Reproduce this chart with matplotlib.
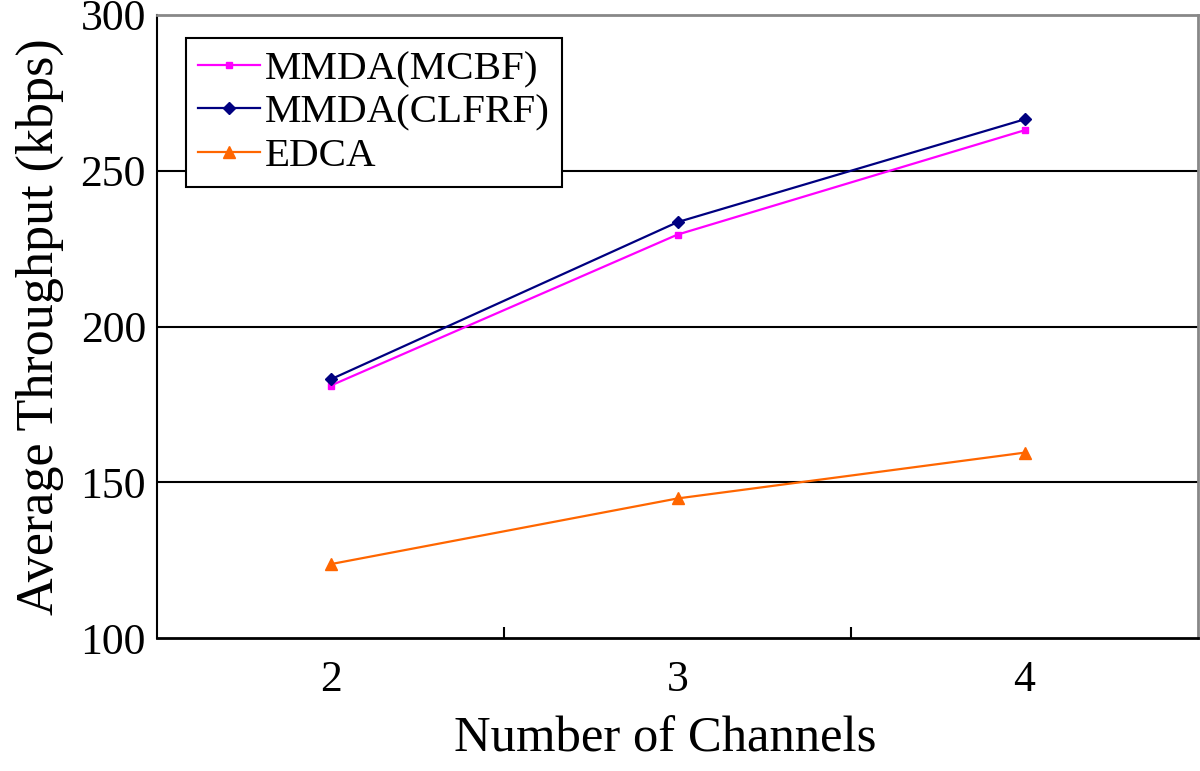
import matplotlib
matplotlib.use("Agg")
import matplotlib.pyplot as plt

# values
channels = [2, 3, 4]
mcbf = [181, 229.5, 263]
clfrf = [183, 233.5, 266.5]
edca = [123.7, 144.8, 159.5]

plt.rcParams['font.family'] = ['Liberation Serif', 'DejaVu Serif']

fig = plt.figure(figsize=(12, 7.71), dpi=100)
ax = fig.add_axes([157/1200, 1-638/771, (1198-157)/1200, (638-15)/771])

ax.plot(channels, mcbf, color='#FF00FF', lw=1.6, marker='s', ms=5, label='MMDA(MCBF)')
ax.plot(channels, clfrf, color='#000080', lw=1.6, marker='D', ms=6.5, label='MMDA(CLFRF)')
ax.plot(channels, edca, color='#FF6600', lw=1.6, marker='^', ms=8, label='EDCA')

ax.set_xlim(1.5, 4.5)
ax.set_ylim(100, 300)
ax.set_yticks([100, 150, 200, 250, 300])
ax.set_xticks(channels)
ax.set_xticks([2.5, 3.5], minor=True)
ax.tick_params(axis='x', which='major', length=0, labelsize=31.5, pad=16)
ax.tick_params(axis='x', which='minor', direction='in', length=8, width=1.5)
ax.tick_params(axis='y', length=0, labelsize=31.5, pad=8)

for y in [150, 200, 250]:
    ax.axhline(y, color='black', lw=1.5, zorder=0)

ax.spines['left'].set_linewidth(1.5)
ax.spines['bottom'].set_linewidth(2)
ax.spines['top'].set_color('#888888')
ax.spines['right'].set_color('#888888')
ax.spines['top'].set_linewidth(2)
ax.spines['right'].set_linewidth(2)

ax.set_xlabel('Number of Channels', fontsize=36.5, labelpad=12)
ax.xaxis.set_label_coords(0.488, -0.125)
ax.set_ylabel('Average Throughput (kbps)', fontsize=37.5, labelpad=12)

leg = ax.legend(loc='upper left', bbox_to_anchor=(0.028, 0.963), fontsize=29.5,
                frameon=True, fancybox=False, framealpha=1, edgecolor='black',
                handlelength=1.5, handletextpad=0.12, borderpad=0.3, labelspacing=0.14,
                borderaxespad=0)
leg.get_frame().set_linewidth(1.5)

fig.savefig('out.png', dpi=100)
